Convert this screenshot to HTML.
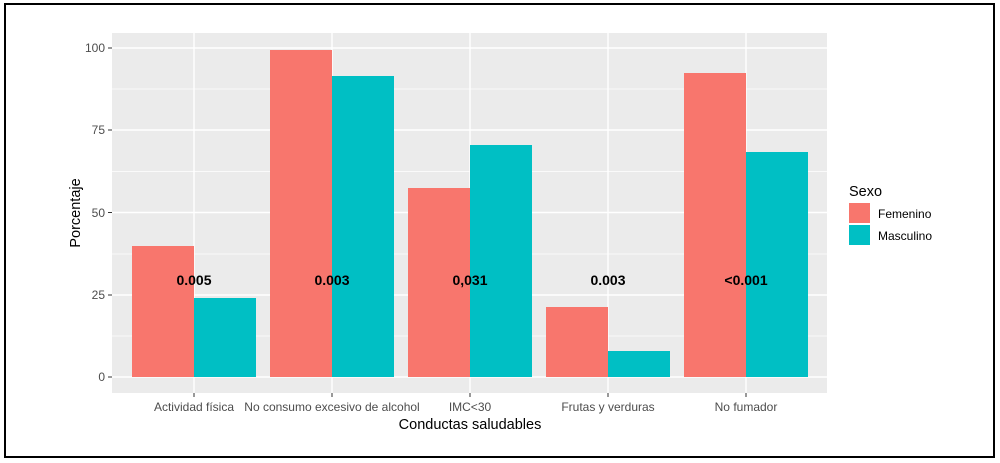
<!DOCTYPE html>
<html><head><meta charset="utf-8"><style>
html,body{margin:0;padding:0;background:#fff;}
svg{display:block;font-family:"Liberation Sans",Arial,sans-serif;}
</style></head><body>
<svg width="1000" height="463" viewBox="0 0 1000 463" xmlns="http://www.w3.org/2000/svg">
<rect x="5" y="4" width="989" height="453" fill="#fff" stroke="#000" stroke-width="2"/>
<rect x="112" y="33" width="715" height="360" fill="#ebebeb"/>
<g stroke="#fff" stroke-width="0.7">
<line x1="112" x2="827" y1="336" y2="336"/><line x1="112" x2="827" y1="254" y2="254"/>
<line x1="112" x2="827" y1="171.5" y2="171.5"/><line x1="112" x2="827" y1="89" y2="89"/>
</g>
<g stroke="#fff" stroke-width="1.4">
<line x1="112" x2="827" y1="377" y2="377"/><line x1="112" x2="827" y1="295" y2="295"/>
<line x1="112" x2="827" y1="212.5" y2="212.5"/><line x1="112" x2="827" y1="130" y2="130"/>
<line x1="112" x2="827" y1="48" y2="48"/>
<line x1="194" x2="194" y1="33" y2="393"/><line x1="332" x2="332" y1="33" y2="393"/>
<line x1="470" x2="470" y1="33" y2="393"/><line x1="608" x2="608" y1="33" y2="393"/>
<line x1="746" x2="746" y1="33" y2="393"/>
</g>
<g fill="#f8766d">
<rect x="132" y="246" width="62" height="131"/>
<rect x="270" y="50" width="62" height="327"/>
<rect x="408" y="188" width="62" height="189"/>
<rect x="546" y="307" width="62" height="70"/>
<rect x="684" y="73" width="62" height="304"/>
</g>
<g fill="#00bfc4">
<rect x="194" y="298" width="62" height="79"/>
<rect x="332" y="76" width="62" height="301"/>
<rect x="470" y="145" width="62" height="232"/>
<rect x="608" y="351" width="62" height="26"/>
<rect x="746" y="152" width="62" height="225"/>
</g>
<g font-size="14" font-weight="bold" fill="#000" text-anchor="middle">
<text x="194" y="285">0.005</text><text x="332" y="285">0.003</text>
<text x="470" y="285">0,031</text><text x="608" y="285">0.003</text>
<text x="746" y="285">&lt;0.001</text>
</g>
<g stroke="#333" stroke-width="1">
<line x1="108" x2="112" y1="377" y2="377"/><line x1="108" x2="112" y1="295" y2="295"/>
<line x1="108" x2="112" y1="212.5" y2="212.5"/><line x1="108" x2="112" y1="130" y2="130"/>
<line x1="108" x2="112" y1="48" y2="48"/>
<line x1="194" x2="194" y1="393" y2="397"/><line x1="332" x2="332" y1="393" y2="397"/>
<line x1="470" x2="470" y1="393" y2="397"/><line x1="608" x2="608" y1="393" y2="397"/>
<line x1="746" x2="746" y1="393" y2="397"/>
</g>
<g font-size="12" fill="#4d4d4d" text-anchor="end">
<text x="105" y="381">0</text><text x="105" y="299">25</text><text x="105" y="217">50</text>
<text x="105" y="134">75</text><text x="105" y="52">100</text>
</g>
<g font-size="12" fill="#4d4d4d" text-anchor="middle">
<text x="194" y="411">Actividad física</text><text x="332" y="411">No consumo excesivo de alcohol</text>
<text x="470" y="411">IMC&lt;30</text><text x="608" y="411">Frutas y verduras</text>
<text x="746" y="411">No fumador</text>
</g>
<text x="470" y="429" font-size="14.5" text-anchor="middle" fill="#000">Conductas saludables</text>
<text transform="translate(80,213) rotate(-90)" font-size="14.5" text-anchor="middle" fill="#000">Porcentaje</text>
<text x="849" y="196" font-size="14.5" fill="#000">Sexo</text>
<rect x="849" y="203" width="21" height="20" fill="#f8766d"/>
<rect x="849" y="225" width="21" height="20" fill="#00bfc4"/>
<text x="878" y="218" font-size="12" fill="#000">Femenino</text>
<text x="878" y="240" font-size="12" fill="#000">Masculino</text>
</svg>
</body></html>
